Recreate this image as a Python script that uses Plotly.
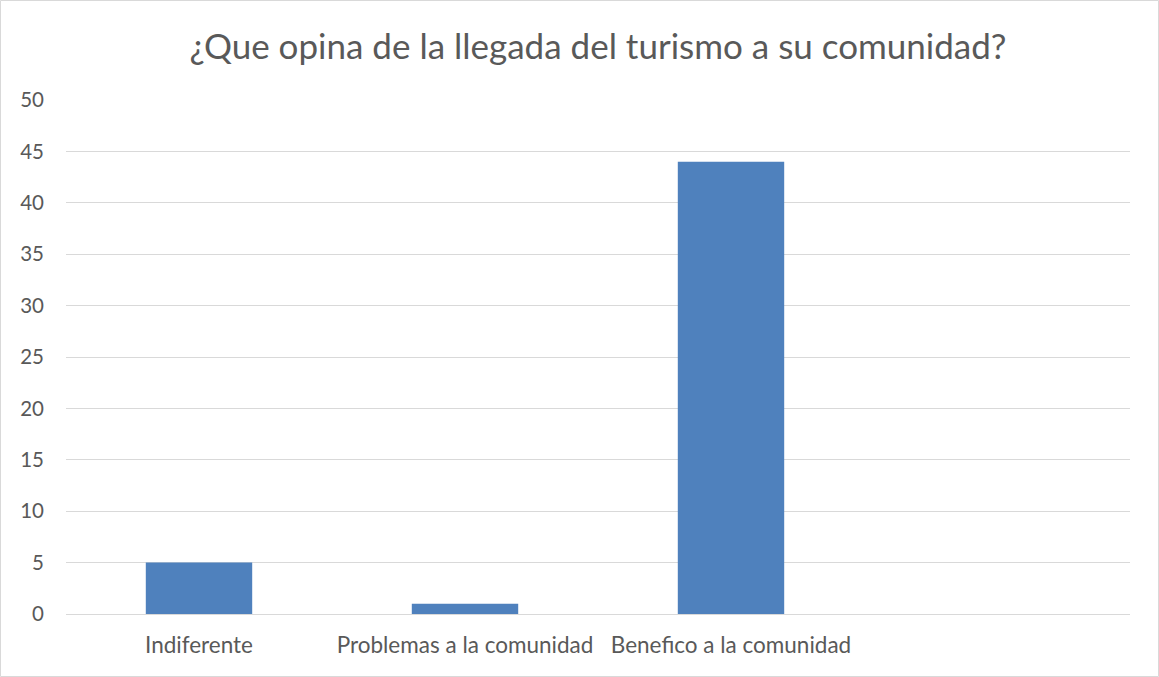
import plotly.graph_objects as go

categories = ["Indiferente", "Problemas a la comunidad", "Benefico a la comunidad"]
values = [5, 1, 44]
y_ticks = [0, 5, 10, 15, 20, 25, 30, 35, 40, 45, 50]

W, H = 1159, 677
ml, mr, mt, mb = 66, 29, 100, 63
pw, ph = W - ml - mr, H - mt - mb
FONT = "Lato"

fig = go.Figure(go.Bar(
    x=list(range(len(categories))),
    y=values,
    marker=dict(color="#4f81bd", line=dict(width=0)),
    width=0.4,
    hoverinfo="x+y",
))

fig.update_layout(
    width=W, height=H,
    margin=dict(l=ml, r=mr, t=mt, b=mb),
    paper_bgcolor="white", plot_bgcolor="white",
    font=dict(family=FONT, color="#595959", size=21),
    title=dict(text="¿Que opina de la llegada del turismo a su comunidad?",
               x=0.5, xref="paper", xanchor="center",
               y=1 - 47 / H, yanchor="middle", yref="container",
               font=dict(size=35, color="#595959", family=FONT)),
    showlegend=False,
    xaxis=dict(tickvals=list(range(len(categories))), ticktext=categories,
               range=[-0.5, 3.5], showgrid=False, zeroline=False,
               showline=False, ticks="", ticklabelstandoff=15,
               tickfont=dict(size=22.5, color="#595959", family=FONT)),
    yaxis=dict(range=[0, 50], tickvals=y_ticks, showgrid=True,
               gridcolor="#d9d9d9", gridwidth=1, zeroline=True,
               zerolinecolor="#d9d9d9", zerolinewidth=1, showline=False,
               ticks="", ticklabelstandoff=21,
               tickfont=dict(size=20.5, color="#595959", family=FONT)),
    shapes=[dict(type="rect", xref="paper", yref="paper",
                 x0=(0.5 - ml) / pw, x1=(W - 0.5 - ml) / pw,
                 y0=(mt + ph - (H - 0.5)) / ph, y1=(mt + ph - 0.5) / ph,
                 line=dict(color="#d9d9d9", width=1), layer="below")],
)

fig.write_html("out.html",
               config={"displayModeBar": False},
               post_script="document.body.style.margin='0';document.body.style.overflow='hidden';")
